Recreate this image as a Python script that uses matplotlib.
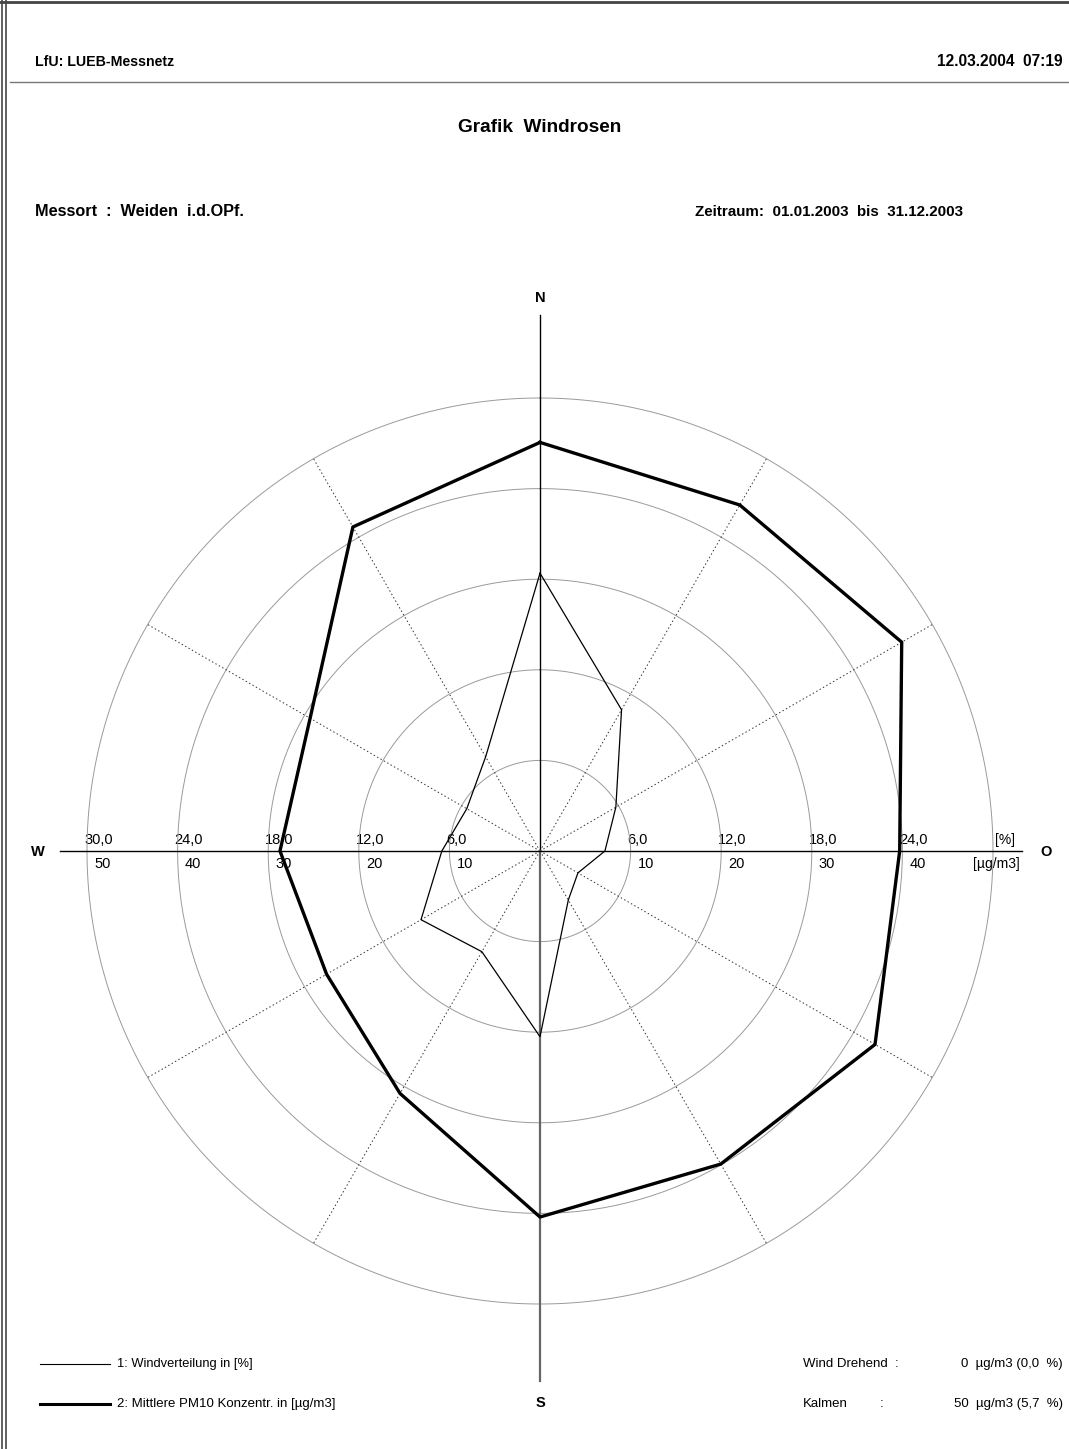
import numpy as np
import matplotlib
matplotlib.use("Agg")
import matplotlib.pyplot as plt

# wind directions (degrees, clockwise from north)
directions = [0, 30, 60, 90, 120, 150, 180, 210, 240, 270, 300, 330]
# 1: Windverteilung in [%]
wind_pct = [18.4, 10.8, 5.8, 4.3, 2.9, 3.75, 12.3, 7.7, 9.1, 6.5, 5.6, 7.2]
# 2: Mittlere PM10 Konzentr. in [µg/m3]
pm10 = [45.1, 44.1, 46.1, 39.7, 42.7, 39.9, 40.4, 30.9, 27.2, 28.7, 29.3, 41.3]

ring_pct = [6.0, 12.0, 18.0, 24.0, 30.0]
ring_ug = [10, 20, 30, 40, 50]
ug_to_pct = 0.6  # 10 µg/m3 on the same ring as 6 %

W, H = 1069, 1449
PX = 15.1          # pixels per % unit
CX, CY = 540, 851  # centre of the rose in page pixels
RMAX = 36.0

sans = ['Liberation Sans', 'DejaVu Sans']

fig = plt.figure(figsize=(W / 100, H / 100), dpi=100)

# page layer in pixel coordinates
page = fig.add_axes([0, 0, 1, 1])
page.set_xlim(0, W)
page.set_ylim(H, 0)
page.axis('off')

# page borders
page.plot([0, W], [2, 2], color='#444444', lw=2.0)
page.plot([2, 2], [0, H], color='#444444', lw=1.2)
page.plot([6, 6], [0, H], color='#444444', lw=1.2)
page.plot([10, W], [82, 82], color='#777777', lw=1.0)

page.text(35, 62, 'LfU: LUEB-Messnetz', family=sans, weight='bold', fontsize=10.2, va='center')
page.text(1063, 62, '12.03.2004  07:19', family=sans, weight='bold', fontsize=11.2, va='center', ha='right')
page.text(540, 128, 'Grafik  Windrosen', family=sans, weight='bold', fontsize=13.7, va='center', ha='center')
page.text(35, 212, 'Messort  :  Weiden  i.d.OPf.', family=sans, weight='bold', fontsize=11.7, va='center')
page.text(963, 212, 'Zeitraum:  01.01.2003  bis  31.12.2003', family=sans, weight='bold', fontsize=10.9,
          va='center', ha='right')

# compass letters
page.text(540, 298, 'N', family=sans, weight='bold', fontsize=10.5, ha='center', va='center')
page.text(540, 1403, 'S', family=sans, weight='bold', fontsize=10.5, ha='center', va='center')
page.text(38, 852, 'W', family=sans, weight='bold', fontsize=10.5, ha='center', va='center')
page.text(1046, 852, 'O', family=sans, weight='bold', fontsize=10.5, ha='center', va='center')

# ring labels along the W-O axis
for p, u in zip(ring_pct, ring_ug):
    for side in (-1, 1):
        x = CX + side * p * PX
        if side == 1 and p == 30.0:
            continue
        page.text(x - 3, 840, f'{p:.1f}'.replace('.', ','), family=sans, fontsize=10.5, va='center')
        page.text(x + 7, 864, str(u), family=sans, fontsize=10.5, va='center')
page.text(1005, 840, '[%]', family=sans, fontsize=10, va='center', ha='center')
page.text(996, 864, '[µg/m3]', family=sans, fontsize=10, va='center', ha='center')

# legend
page.plot([40, 110], [1364, 1364], color='black', lw=0.8)
page.text(117, 1364, '1: Windverteilung in [%]', family=sans, fontsize=9.3, va='center')
page.plot([40, 110], [1404, 1404], color='black', lw=2.2)
page.text(117, 1404, '2: Mittlere PM10 Konzentr. in [µg/m3]', family=sans, fontsize=9.5, va='center')
page.text(803, 1364, 'Wind Drehend  :', family=sans, fontsize=9.5, va='center')
page.text(1063, 1364, '0  µg/m3 (0,0  %)', family=sans, fontsize=9.5, va='center', ha='right')
page.text(803, 1404, 'Kalmen', family=sans, fontsize=9.5, va='center')
page.text(880, 1404, ':', family=sans, fontsize=9.5, va='center')
page.text(1063, 1404, '50  µg/m3 (5,7  %)', family=sans, fontsize=9.5, va='center', ha='right')

# polar rose
R = RMAX * PX
ax = fig.add_axes([(CX - R) / W, (H - CY - R) / H, 2 * R / W, 2 * R / H], projection='polar')
ax.set_theta_zero_location('N')
ax.set_theta_direction(-1)
ax.set_ylim(0, RMAX)
ax.axis('off')

circ = np.linspace(0, 2 * np.pi, 361)
for p in ring_pct:
    ax.plot(circ, np.full_like(circ, p), color='#9a9a9a', lw=0.7)

for d in directions:
    if d % 90:
        ax.plot([np.radians(d)] * 2, [0, 30], color='#333333', lw=0.7, ls=(0, (1.5, 2.5)))

# main axes lines
ax.plot([0, 0], [0, 35.5], color='black', lw=1.0)
ax.plot([np.pi, np.pi], [0, 35.1], color='#666666', lw=1.6)
ax.plot([np.pi / 2] * 2, [0, 31.9], color='black', lw=1.0)
ax.plot([3 * np.pi / 2] * 2, [0, 31.8], color='black', lw=1.0)

theta = np.radians(directions + directions[:1])
wind_closed = np.array(wind_pct + wind_pct[:1])
pm_closed = np.array(pm10 + pm10[:1]) * ug_to_pct
ax.plot(theta, wind_closed, color='black', lw=0.9)
ax.plot(theta, pm_closed, color='black', lw=2.4)

fig.savefig('out.png', dpi=100, facecolor='white')
